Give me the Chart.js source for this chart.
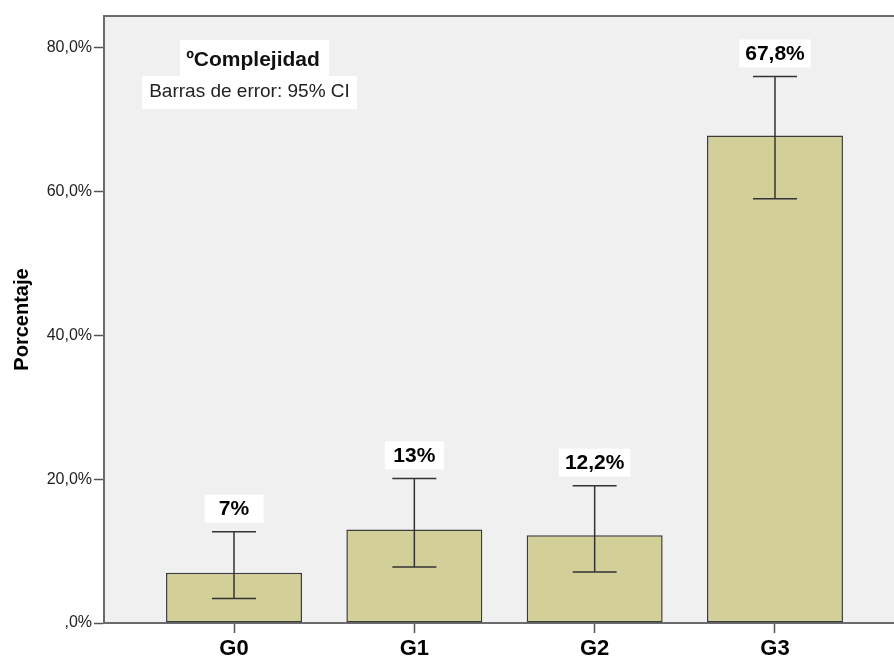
<!DOCTYPE html>
<html>
<head>
<meta charset="utf-8">
<script src="https://cdn.jsdelivr.net/npm/chart.js@4"></script>
<style>
  html, body { margin: 0; padding: 0; background: #ffffff; }
  #wrap { width: 894px; height: 657px; position: relative; }
</style>
</head>
<body>
<div id="wrap"><canvas id="c" width="894" height="657"></canvas></div>
<script>
// ---- data ----
const categories = ['G0', 'G1', 'G2', 'G3'];
const values = [7, 13, 12.2, 67.8];
const ciLow = [3.4, 7.8, 7.1, 59.0];
const ciHigh = [12.7, 20.1, 19.1, 76.0];
const valueLabels = ['7%', '13%', '12,2%', '67,8%'];
const yTicks = [0, 20, 40, 60, 80];
const yTickLabels = [',0%', '20,0%', '40,0%', '60,0%', '80,0%'];
const legendTitle = 'ºComplejidad';
const legendSubtitle = 'Barras de error: 95% CI';
const yTitle = 'Porcentaje';

const FONT = '"Liberation Sans", Arial, sans-serif';

const barData = categories.map((c, i) => ({ x: i, y: values[i] }));

const decorPlugin = {
  id: 'decor',
  beforeDraw(chart) {
    const { ctx, chartArea: a } = chart;
    ctx.save();
    ctx.fillStyle = '#f0f0f0';
    ctx.fillRect(a.left, a.top, a.right - a.left, a.bottom - a.top);
    ctx.restore();
  },
  afterDatasetsDraw(chart) {
    const { ctx, chartArea: a } = chart;
    const xs = chart.scales.x, ys = chart.scales.y;
    ctx.save();
    // top border
    ctx.strokeStyle = '#6b6b6b';
    ctx.lineWidth = 2;
    ctx.beginPath();
    ctx.moveTo(a.left - 1, a.top);
    ctx.lineTo(a.right, a.top);
    ctx.stroke();
    // error bars
    ctx.strokeStyle = '#333333';
    ctx.lineWidth = 1.5;
    categories.forEach((c, i) => {
      const x = xs.getPixelForValue(i);
      const yl = ys.getPixelForValue(ciLow[i]);
      const yh = ys.getPixelForValue(ciHigh[i]);
      const cap = 22;
      ctx.beginPath();
      ctx.moveTo(x, yl); ctx.lineTo(x, yh);
      ctx.moveTo(x - cap, yh); ctx.lineTo(x + cap, yh);
      ctx.moveTo(x - cap, yl); ctx.lineTo(x + cap, yl);
      ctx.stroke();
    });
    // value labels
    ctx.font = 'bold 21px ' + FONT;
    ctx.textAlign = 'center';
    ctx.textBaseline = 'middle';
    categories.forEach((c, i) => {
      const x = xs.getPixelForValue(i);
      const yh = ys.getPixelForValue(ciHigh[i]);
      const cy = yh - 23;
      const w = Math.max(59, ctx.measureText(valueLabels[i]).width + 12);
      ctx.fillStyle = '#ffffff';
      ctx.fillRect(x - w / 2, cy - 14, w, 28);
      ctx.fillStyle = '#000000';
      ctx.fillText(valueLabels[i], x, cy + 1);
    });
    // legend boxes
    ctx.fillStyle = '#ffffff';
    ctx.fillRect(180, 40, 149, 36);
    ctx.fillRect(142, 76, 215, 33);
    ctx.fillStyle = '#111111';
    ctx.font = 'bold 21px ' + FONT;
    ctx.fillText(legendTitle, 253, 60);
    ctx.fillStyle = '#222222';
    ctx.font = '19px ' + FONT;
    ctx.fillText(legendSubtitle, 249.5, 92);
    ctx.restore();
  }
};

new Chart(document.getElementById('c'), {
  type: 'bar',
  data: {
    datasets: [{
      data: barData,
      backgroundColor: '#d3cf98',
      borderColor: '#3c3c3c',
      borderWidth: 1.5,
      borderSkipped: false,
      barPercentage: 0.754,
      categoryPercentage: 1.0
    }]
  },
  options: {
    responsive: false,
    animation: false,
    layout: { padding: { top: 16, right: 0, left: 0, bottom: 0 } },
    plugins: { legend: { display: false }, tooltip: { enabled: false } },
    scales: {
      x: {
        type: 'linear',
        offset: false,
        min: -0.721,
        max: 3.66,
        afterBuildTicks(s) { s.ticks = categories.map((c, i) => ({ value: i })); },
        afterFit(s) { s.height = 34; },
        ticks: {
          callback: (v) => categories[v] ?? '',
          font: { family: FONT, size: 22, weight: 'bold' },
          color: '#000000',
          padding: 3,
          maxRotation: 0,
          autoSkip: false
        },
        grid: { offset: false, drawOnChartArea: false, tickLength: 10, color: '#555555', tickWidth: 1.5 },
        border: { display: true, color: '#6b6b6b', width: 2 }
      },
      y: {
        min: 0,
        max: 84.4,
        afterBuildTicks(s) { s.ticks = yTicks.map(v => ({ value: v })); },
        afterFit(s) { s.width = 104; },
        ticks: {
          callback: (v) => { const k = yTicks.indexOf(v); return k >= 0 ? yTickLabels[k] : ''; },
          font: { family: FONT, size: 16 },
          color: '#222222',
          padding: 2
        },
        grid: { drawOnChartArea: false, tickLength: 10, color: '#555555', tickWidth: 1.5 },
        border: { display: true, color: '#6b6b6b', width: 2 },
        title: {
          display: true,
          text: yTitle,
          font: { family: FONT, size: 20, weight: 'bold' },
          color: '#000000',
          padding: { top: 10, bottom: 0 }
        }
      }
    }
  },
  plugins: [decorPlugin]
});
</script>
</body>
</html>
